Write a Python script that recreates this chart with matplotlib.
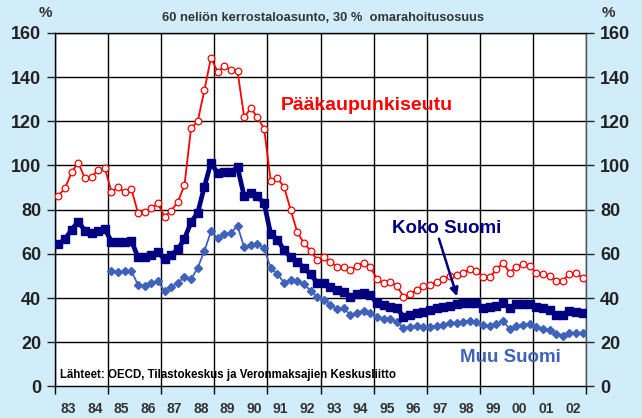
import matplotlib.pyplot as plt
import numpy as np


BG = "#D2EDFA"
RED = "#FF0000"
NAVY = "#000080"
MUU = "#3F62BA"

# neljännesvuosittain 1983Q1 - 2002Q4
YEAR_LABELS = ["83", "84", "85", "86", "87", "88", "89", "90", "91", "92",
               "93", "94", "95", "96", "97", "98", "99", "00", "01", "02"]

PAAKAUPUNKISEUTU = [
    86.3, 89.7, 96.9, 101.3, 94.2, 94.8, 98.0, 99.0,
    88.1, 90.1, 87.9, 89.5, 78.5, 78.8, 80.6, 82.9,
    76.8, 79.5, 83.5, 91.0, 117.0, 120.0, 134.0, 148.8,
    142.3, 145.0, 143.0, 142.6, 121.8, 125.9, 121.8, 116.7,
    93.0, 94.2, 90.4, 79.9, 69.8, 64.8, 61.5, 57.2,
    58.5, 56.5, 54.2, 54.2, 52.7, 54.5, 56.0, 54.2,
    48.6, 46.7, 47.4, 45.5, 40.6, 41.9, 43.7, 45.5,
    45.9, 47.4, 48.5, 50.0, 50.5, 51.5, 53.0, 52.4,
    49.4, 49.4, 53.0, 56.0, 51.5, 54.2, 55.3, 54.7,
    51.5, 50.9, 50.0, 47.9, 47.9, 50.9, 51.2, 49.0,
]

KOKO_SUOMI = [
    64.4, 66.6, 71.0, 74.6, 70.5, 69.6, 70.3, 71.4,
    65.5, 65.6, 65.4, 66.0, 58.5, 58.4, 59.4, 60.8,
    57.6, 59.5, 62.0, 66.8, 74.4, 78.6, 90.4, 101.3,
    96.4, 97.2, 97.2, 99.1, 86.0, 87.4, 86.0, 82.9,
    69.0, 66.5, 61.8, 58.4, 56.2, 53.8, 50.7, 47.0,
    46.7, 44.8, 43.6, 42.9, 40.6, 41.9, 42.4, 41.4,
    37.6, 36.9, 36.1, 35.4, 31.6, 32.4, 33.1, 33.8,
    34.6, 35.4, 36.1, 36.6, 37.2, 37.6, 37.9, 37.9,
    35.4, 35.8, 36.4, 37.9, 35.4, 37.2, 37.3, 37.3,
    36.1, 35.4, 34.6, 32.4, 32.4, 34.3, 33.8, 33.1,
]

MUU_SUOMI = [
    None, None, None, None, None, None, None, None,
    52.2, 51.9, 52.1, 52.3, 46.0, 45.5, 46.8, 47.8,
    43.1, 44.9, 47.0, 49.4, 48.5, 53.7, 61.3, 70.2,
    67.0, 68.8, 69.6, 72.6, 63.0, 64.0, 64.5, 62.5,
    53.5, 50.9, 47.0, 48.2, 47.7, 46.4, 43.3, 40.5,
    39.3, 36.9, 35.1, 35.4, 32.4, 33.4, 34.3, 33.1,
    31.3, 30.4, 30.4, 29.3, 26.3, 26.8, 27.2, 26.8,
    26.8, 27.4, 28.0, 28.9, 28.9, 29.3, 29.8, 29.3,
    27.8, 27.4, 28.3, 29.8, 25.9, 27.4, 28.0, 28.3,
    26.8, 25.9, 25.6, 23.8, 22.9, 24.1, 24.4, 24.1,
]


def main() -> None:
    plt.rcParams["font.family"] = ["Liberation Sans", "DejaVu Sans"]

    fig = plt.figure(figsize=(6.42, 4.18), dpi=100, facecolor=BG)
    ax = fig.add_axes([0.0857, 0.0754, 0.8271, 0.8459])
    ax.set_facecolor("white")

    n = len(KOKO_SUOMI)
    x = np.arange(n) + 0.5
    muu = np.array([np.nan if v is None else v for v in MUU_SUOMI], dtype=float)

    # ruudukko
    for gx in range(0, n + 1, 8):
        ax.axvline(gx, color="black", lw=1.0, zorder=1)
    for gy in range(20, 161, 20):
        ax.axhline(gy, color="black", lw=1.0, zorder=1)

    ax.plot(x, muu, color=MUU, lw=1.3, marker="D", markersize=4.4,
            markerfacecolor=MUU, markeredgecolor=MUU, zorder=3)
    ax.plot(x, KOKO_SUOMI, color=NAVY, lw=3.4, marker="s", markersize=6.2,
            markerfacecolor=NAVY, markeredgecolor=NAVY, zorder=4)
    ax.plot(x, PAAKAUPUNKISEUTU, color=RED, lw=1.3, marker="o", markersize=4.8,
            markerfacecolor="white", markeredgecolor=RED, markeredgewidth=0.9,
            zorder=5)

    ax.set_xlim(0, n)
    ax.set_ylim(0, 160)

    # akselit
    ax.set_yticks(np.arange(0, 161, 20))
    ax.tick_params(axis="y", which="both", direction="out", length=6, width=1,
                   left=True, right=True, labelleft=True, labelright=True,
                   labelsize=13, colors="#222222", pad=4)
    for lab in ax.get_yticklabels():
        lab.set_fontweight("bold")

    ax.set_xticks(np.arange(0, n + 1, 8), minor=False)
    ax.set_xticklabels([])
    ax.tick_params(axis="x", which="major", direction="out", length=6, width=1,
                   color="black")
    ax.set_xticks(np.arange(2, n, 4), minor=True)
    ax.set_xticklabels(YEAR_LABELS, minor=True)
    ax.tick_params(axis="x", which="minor", length=0, labelsize=10,
                   labelcolor="#333333", pad=11)
    for lab in ax.get_xticklabels(minor=True):
        lab.set_fontweight("bold")

    for spine in ax.spines.values():
        spine.set_color("black")
        spine.set_linewidth(1.0)
    ax.spines["right"].set_color("#555555")

    # tekstit
    fig.text(0.503, 0.958, "60 neliön kerrostaloasunto, 30 %  omarahoitusosuus",
             ha="center", va="center", fontsize=9.3, fontweight="bold",
             color="#333333")
    fig.text(0.071, 0.968, "%", ha="center", va="center", fontsize=11,
             fontweight="bold", color="#333333")
    fig.text(0.947, 0.968, "%", ha="center", va="center", fontsize=11,
             fontweight="bold", color="#333333")

    ax.text(0.588, 0.795, "Pääkaupunkiseutu", transform=ax.transAxes,
            ha="center", va="center", fontsize=14, fontweight="bold",
            color=RED, zorder=6)
    ax.text(0.738, 0.446, "Koko Suomi", transform=ax.transAxes,
            ha="center", va="center", fontsize=13.5, fontweight="bold",
            color=NAVY, zorder=6)
    ax.text(0.858, 0.082, "Muu Suomi", transform=ax.transAxes,
            ha="center", va="center", fontsize=13.5, fontweight="bold",
            color=MUU, zorder=6)
    ax.text(0.01, 0.033,
            "Lähteet: OECD, Tilastokeskus ja Veronmaksajien Keskusliitto",
            transform=ax.transAxes, ha="left", va="center", fontsize=8.3,
            fontweight="bold", color="black", zorder=6)

    ax.annotate("", xy=(0.757, 0.255), xytext=(0.723, 0.418),
                xycoords="axes fraction", textcoords="axes fraction",
                arrowprops=dict(arrowstyle="-|>", color=NAVY, lw=1.8,
                                mutation_scale=12, shrinkA=0, shrinkB=0),
                zorder=6)

    fig.savefig("out.png", dpi=100, facecolor=BG)
    plt.close(fig)


if __name__ == "__main__":
    main()
